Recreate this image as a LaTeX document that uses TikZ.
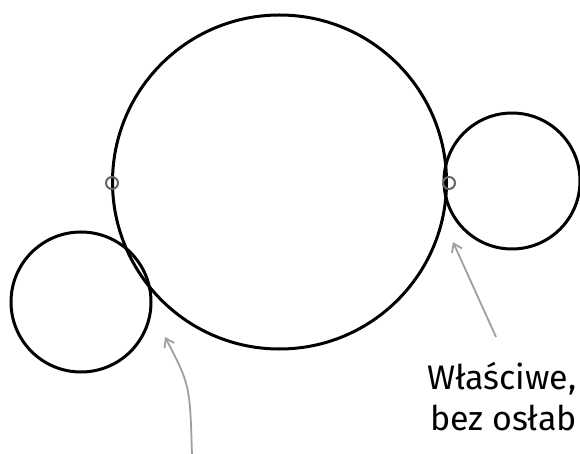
\documentclass[tikz,border=0pt]{standalone}
\usepackage{fontspec}
\setmainfont{Fira Sans}
\usetikzlibrary{positioning, arrows.meta}

\begin{document}
\begin{tikzpicture}[x=1pt, y=-1pt, >={Straight Barb[length=8pt,width=11pt]}]
    \tikzset{
      wheel/.style={circle, draw=black, line width=3pt, inner sep=0pt},
      joint/.style={circle, draw=black!60, line width=2pt, inner sep=0pt, minimum width=11pt, minimum height=12pt},
      pointer/.style={->, gray!75, line width=1.8pt},
      note/.style={font=\fontsize{34}{40}\selectfont, anchor=base west, inner sep=0pt}
    }
    % Frame
    \useasboundingbox (0,0) rectangle (580,454);
    \clip (0,0) rectangle (580,454);

    % Circles
    \node[wheel, minimum size=334pt] (big) at (279.5,182) {};
    \node[wheel, minimum size=136pt] (right) at (512,181) {};
    \node[wheel, minimum size=140pt] (left) at (81,302) {};

    % Small rings on the big circle
    \node[joint] (ringL) at (112,183) {};
    \node[joint] (ringR) at (449,183) {};

    % Text
    \node[note] (line1) at (427,389) {Właściwe,};
    \node[note] (line2) at (430,430) {bez osłab};

    % Arrows
    \coordinate (tailL) at (192,456);
    \coordinate (tipL) at (165,337);
    \coordinate (tailR) at (496,337);
    \coordinate (tipR) at (453,242);
    \draw[pointer] (tailL) .. controls (190,385) .. (tipL);
    \draw[pointer] (tailR) -- (tipR);
\end{tikzpicture}
\end{document}
